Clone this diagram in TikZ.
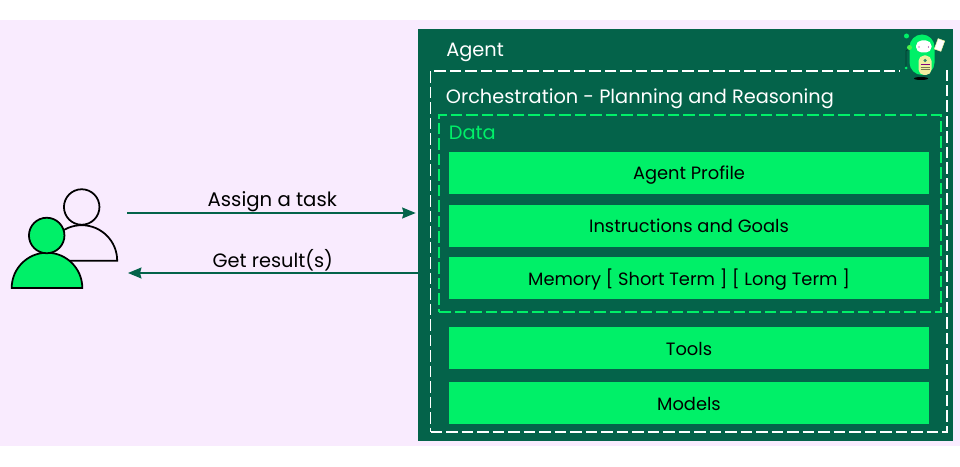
\documentclass[tikz,border=0pt]{standalone}
\usepackage{fontspec}
\setmainfont{Poppins}
\usetikzlibrary{arrows.meta}
\definecolor{pagepink}{HTML}{F9EBFE}
\definecolor{agentgreen}{HTML}{04634A}
\definecolor{brightgreen}{HTML}{00F068}
\definecolor{bellyyellow}{HTML}{EFEFA0}
\tikzset{
    bar/.style={rectangle, fill=brightgreen, minimum width=9.6cm, minimum height=0.84cm, inner sep=0pt, text height=0.28cm, text depth=0cm, font=\fontsize{10.15}{12}\selectfont, text=black},
    title/.style={anchor=west, inner sep=0pt, text height=0.3cm, text depth=0cm, font=\fontsize{11}{13}\selectfont, text=white},
    flowlabel/.style={inner sep=0pt, text depth=0cm, font=\fontsize{11}{13}\selectfont, text=black},
    flow/.style={draw=agentgreen, line width=0.8pt, -{Stealth[length=0.27cm, width=0.22cm, inset=0.03cm]}},
    person/.style={draw=black, line width=1pt},
    dashbox/.style={rectangle, dash pattern=on 0.23cm off 0.08cm, line width=1pt, inner sep=0pt}
}
\begin{document}
\begin{tikzpicture}
    \useasboundingbox (0,0) rectangle (19.2,9.32);
    \fill[pagepink] (0,0.40) rectangle (19.2,8.92);

    \node[rectangle, fill=agentgreen, minimum width=10.7cm, minimum height=8.24cm, inner sep=0pt] (agent) at (13.71,4.62) {};
    \node[dashbox, draw=white, minimum width=10.336cm, minimum height=7.22cm] (orchestration) at (13.778,4.296) {};
    \node[dashbox, draw=brightgreen, minimum width=10.04cm, minimum height=3.94cm] (data) at (13.806,5.05) {};

    \node[title] (agentlabel) at (8.92,8.34) {Agent};
    \node[title] (orchlabel) at (8.91,7.40) {Orchestration - Planning and Reasoning};
    \node[title, text=brightgreen] (datalabel) at (8.97,6.68) {Data};

    \node[bar] (profile) at (13.78,5.86) {Agent Profile};
    \node[bar] (goals) at (13.78,4.80) {Instructions and Goals};
    \node[bar] (memory) at (13.78,3.76) {Memory [ Short Term ] [ Long Term ]};
    \node[bar] (tools) at (13.78,2.36) {Tools};
    \node[bar] (models) at (13.78,1.26) {Models};

    % users
    \draw[person] (2.344,4.106) -- (0.924,4.106) arc[start angle=180, end angle=0, radius=0.71] -- cycle;
    \node[circle, person, minimum size=0.71cm, inner sep=0pt] (backhead) at (1.634,5.18) {};
    \draw[person, fill=brightgreen] (0.234,3.56) arc[start angle=180, end angle=0, radius=0.706] -- cycle;
    \node[circle, person, fill=brightgreen, minimum size=0.71cm, inner sep=0pt] (fronthead) at (0.934,4.61) {};

    % connectors
    \coordinate (taskstart) at (2.54,5.06);
    \coordinate (resultend) at (2.56,3.86);
    \draw[flow, shorten >=0.04cm] (taskstart) -- node[flowlabel, above=0.12cm, font=\fontsize{11.2}{13}\selectfont] (tasklabel) {Assign a task} (agent.west |- taskstart);
    \draw[flow] (agent.west |- resultend) -- node[flowlabel, above=0.10cm] (resultlabel) {Get result(s)} (resultend);

    % mascot
    \fill[agentgreen] (18.0,7.8) rectangle (18.83,8.0);
    \fill[black] (18.42,7.75) ellipse (0.14 and 0.03);
    \draw[agentgreen!60!black, line width=0.5pt] (18.2,8.36) -- (18.12,8.3) -- (18.12,7.96);
    \fill[brightgreen, rounded corners=0.25cm] (18.19,7.82) rectangle (18.69,8.63);
    \fill[white, rounded corners=0.11cm] (18.32,8.27) rectangle (18.63,8.51);
    \fill[violet] (18.38,8.38) circle (0.012);
    \fill[violet] (18.57,8.38) circle (0.012);
    \fill[bellyyellow, rounded corners=0.11cm] (18.37,7.82) rectangle (18.63,8.21);
    \fill[agentgreen!80] (18.5,8.11) circle (0.035);
    \draw[violet, line width=0.3pt] (18.41,8.03) -- (18.59,8.03);
    \draw[black!50!bellyyellow, line width=0.3pt] (18.41,7.98) -- (18.59,7.98) (18.41,7.93) -- (18.59,7.93);
    \fill[white, draw=bellyyellow, line width=0.3pt, rotate around={-20:(18.79,8.42)}] (18.72,8.31) rectangle (18.86,8.53);
    \fill[brightgreen] (18.13,8.6) circle (0.05);
    \fill[brightgreen] (18.12,7.96) circle (0.03);
    \fill[brightgreen!70!yellow] (18.19,8.37) circle (0.05);
\end{tikzpicture}
\end{document}
